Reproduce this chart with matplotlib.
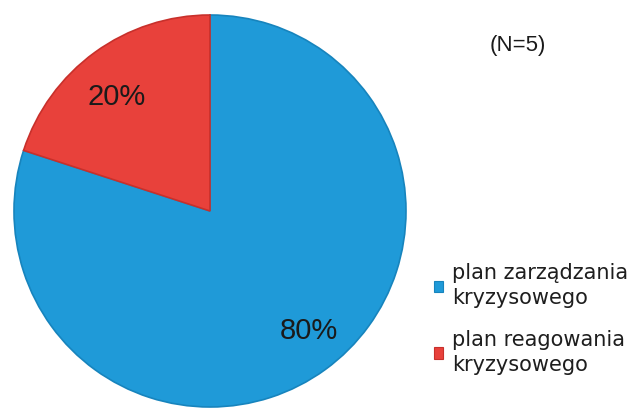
import matplotlib
matplotlib.use("Agg")
import matplotlib.pyplot as plt
from matplotlib.patches import Patch

# udział planów w badanej grupie (N=5)
kategorie = ["plan zarządzania\nkryzysowego", "plan reagowania\nkryzysowego"]
udzialy = [80, 20]
kolory = ["#1f9ad8", "#e8413b"]
krawedzie = ["#1784bd", "#c8302b"]

fig = plt.figure(figsize=(6.33, 4.08), dpi=100)
ax = fig.add_axes([0, 0, 1, 1])

srodek = (210, 197)
wedges, _, pct = ax.pie(udzialy, colors=kolory, startangle=90, counterclock=False,
                        center=srodek, radius=196, autopct="%d%%",
                        pctdistance=0.77, frame=True,
                        textprops=dict(fontsize=21, color="#1a1a1a",
                                       family="Liberation Sans"))
for w, k in zip(wedges, krawedzie):
    w.set_edgecolor(k)
    w.set_linewidth(1.2)
# etykiety procentowe lekko przesunięte względem środka wycinka
pct[0].set_position((srodek[0] + 99, srodek[1] - 120))
pct[1].set_position((srodek[0] - 93, srodek[1] + 114))

ax.set_xlim(0, 633)
ax.set_ylim(0, 408)
ax.set_aspect("equal")
ax.axis("off")

ax.text(518, 408 - 45, "(N=5)", fontsize=16, ha="center", va="center",
        color="#1a1a1a", family=["Liberation Sans Narrow", "Liberation Sans"])

uchwyty = [Patch(facecolor=c, edgecolor=k, linewidth=0.8) for c, k in zip(kolory, krawedzie)]
leg = ax.legend(uchwyty, kategorie, loc="upper left", bbox_to_anchor=(0.672, 0.375),
                frameon=False, handlelength=0.45, handleheight=0.45, handletextpad=0.45,
                labelspacing=1.05, borderaxespad=0,
                prop=dict(size=15, family="DejaVu Sans"))
for t in leg.get_texts():
    t.set_color("#1e1e1e")
    t.set_linespacing(1.3)

fig.savefig("out.png", dpi=100)
